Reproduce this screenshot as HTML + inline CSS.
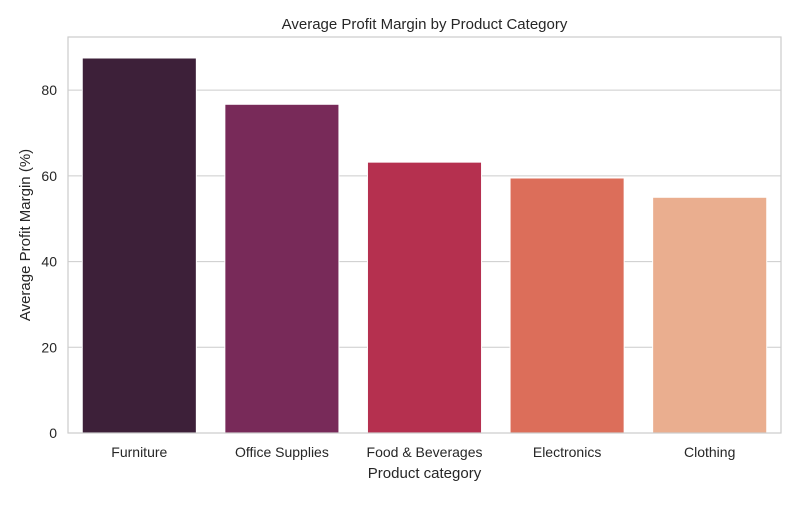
<!DOCTYPE html>
<html><head><meta charset="utf-8"><style>
body{margin:0;background:#fff;}
svg text{font-family:"Liberation Sans",sans-serif;fill:#262626;}
</style></head><body>
<svg id="chart" width="800" height="500"></svg>
<script>
const categories=["Furniture","Office Supplies","Food & Beverages","Electronics","Clothing"];
const values=[87.5,76.7,63.2,59.5,55.0];
const colors=["#3d2039","#782a59","#b5304f","#dc6e5a","#eaae8f"];
const yTicks=[0,20,40,60,80];
const yMax=92.4;
const L=68,R=781,T=37,B=433;
const svg=document.getElementById('chart');
const NS='http://www.w3.org/2000/svg';
function y(v){return B-(v/yMax)*(B-T);}
const band=(R-L)/categories.length;
function xc(i){return L+band*(i+0.5);}
function mk(tag,attrs,text){const e=document.createElementNS(NS,tag);for(const k in attrs)e.setAttribute(k,attrs[k]);if(text!==undefined)e.textContent=text;svg.appendChild(e);return e;}
yTicks.forEach(t=>{
  const g=mk('line',{x1:L,x2:R,y1:y(t),y2:y(t),stroke:'#cccccc','stroke-width':1});
  
  
  const lb=mk('text',{x:L-11,y:y(t)+5,'text-anchor':'end','font-size':14},t);
  
  
});
categories.forEach((c,i)=>{
  const w=band*0.8;
  const r=mk('rect',{x:xc(i)-w/2,y:y(values[i]),width:w,height:B-y(values[i]),fill:colors[i],stroke:'#ffffff','stroke-width':1});
  
  
  const t=mk('text',{x:xc(i),y:B+24,'text-anchor':'middle','font-size':14},c);
  
  
});
const fr=mk('rect',{x:L,y:T,width:R-L,height:B-T,fill:'none',stroke:'#cccccc','stroke-width':1.2});


const ti=mk('text',{x:(L+R)/2,y:29,'text-anchor':'middle','font-size':15},'Average Profit Margin by Product Category');


const xt=mk('text',{x:(L+R)/2,y:478,'text-anchor':'middle','font-size':15},'Product category');


const yt=mk('text',{x:0,y:0,'text-anchor':'middle','font-size':15,transform:'translate(30,235) rotate(-90)'},'Average Profit Margin (%)');


</script>
</body></html>
